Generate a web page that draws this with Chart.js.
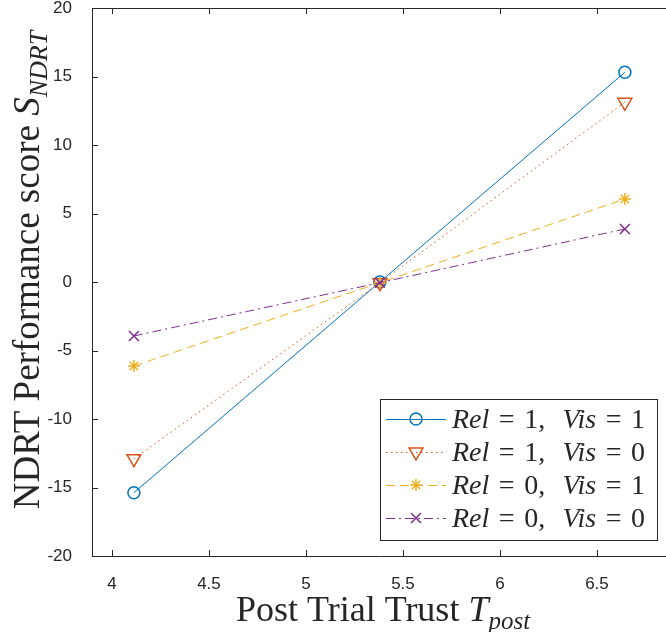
<!DOCTYPE html>
<html>
<head>
<meta charset="utf-8">
<script src="https://cdn.jsdelivr.net/npm/chart.js@4/dist/chart.umd.min.js"></script>
<style>
html, body { margin: 0; padding: 0; background: #fff; }
#wrap { width: 666px; height: 632px; }
</style>
</head>
<body>
<div id="wrap"><canvas id="graph" width="666" height="632"></canvas></div>
<script>
// values
var trust = [4.113, 5.381, 6.644];
var rel1vis1 = [-15.38, 0.0, 15.31];
var rel1vis0 = [-12.9, -0.05, 13.12];
var rel0vis1 = [-6.13, -0.05, 6.06];
var rel0vis0 = [-3.94, -0.05, 3.87];
var seriesLabels = ['Rel = 1,  Vis = 1', 'Rel = 1,  Vis = 0', 'Rel = 0,  Vis = 1', 'Rel = 0,  Vis = 0'];
var xTicks = [4, 4.5, 5, 5.5, 6, 6.5];
var yTicks = [-20, -15, -10, -5, 0, 5, 10, 15, 20];
var xTitle = ['Post Trial Trust ', 'T', 'post'];
var yTitle = ['NDRT Performance score ', 'S', 'NDRT'];

var colors = ['rgb(0,114,189)', 'rgb(217,83,25)', 'rgb(237,177,32)', 'rgb(126,47,142)'];
var styles = [
    {dash: [], point: 'circle', radius: 6, rot: 0},
    {dash: [1.5, 3.5], point: 'triangle', radius: 8, rot: 180},
    {dash: [9, 5], point: 'star', radius: 6, rot: 0},
    {dash: [9, 4, 2, 4], point: 'crossRot', radius: 7, rot: 0}
];
var axisColor = '#262626';
var serif = '"Liberation Serif", "Times New Roman", serif';

function toPoints(ys){
    return ys.map(function(y, i){ return {x: trust[i], y: y}; });
}

var series = [rel1vis1, rel1vis0, rel0vis1, rel0vis0];
var datasets = [];
for(let i = 0; i < series.length; i++){
    datasets.push({
        label: seriesLabels[i],
        data: toPoints(series[i]),
        showLine: true,
        borderColor: colors[i],
        borderWidth: 1,
        borderDash: styles[i].dash,
        backgroundColor: 'rgba(0,0,0,0)',
        pointStyle: styles[i].point,
        pointRadius: styles[i].radius,
        pointRotation: styles[i].rot,
        pointBorderColor: colors[i],
        pointBackgroundColor: 'rgba(0,0,0,0)',
        pointBorderWidth: 1.5,
        order: series.length - i
    });
}

// draws runs of text, e.g. regular + italic + subscript, returns width
function richWidth(ctx, runs){
    var w = 0;
    runs.forEach(function(r){ ctx.font = r.font; w += ctx.measureText(r.text).width; });
    return w;
}
function drawRich(ctx, runs, x, y){
    runs.forEach(function(r){
        ctx.font = r.font;
        ctx.fillText(r.text, x, y + (r.dy || 0));
        x += ctx.measureText(r.text).width;
    });
}
function titleRuns(parts, px){
    return [
        {text: parts[0], font: px + 'px ' + serif},
        {text: parts[1], font: 'italic ' + px + 'px ' + serif},
        {text: parts[2], font: 'italic ' + Math.round(px * 0.7) + 'px ' + serif, dy: px * 0.22}
    ];
}
// legend label: letters italic, '=' padded, single spaces ignored like TeX
function drawMath(ctx, str, x, y, px){
    var tokens = str.match(/[A-Za-z]+|[0-9]+|=|,|\s+/g);
    tokens.forEach(function(t){
        if(/^\s+$/.test(t)){
            if(t.length > 1) x += 0.62 * px;
            return;
        }
        var italic = /^[A-Za-z]/.test(t);
        var pad = t === '=' ? 0.34 * px : 0;
        ctx.font = (italic ? 'italic ' : '') + px + 'px ' + serif;
        x += pad;
        ctx.fillText(t, x, y);
        x += ctx.measureText(t).width + pad;
    });
}

var matlabFrame = {
    id: 'matlabFrame',
    afterDatasetsDraw: function(chart){
        var ctx = chart.ctx;
        var a = chart.chartArea;
        var xs = chart.scales.x, ys = chart.scales.y;
        var tl = 6;
        ctx.save();
        ctx.strokeStyle = axisColor;
        ctx.lineWidth = 1;
        ctx.beginPath();
        ctx.moveTo(a.left, a.top + 0.5);
        ctx.lineTo(a.right, a.top + 0.5);
        xs.ticks.forEach(function(t){
            var px = Math.round(xs.getPixelForValue(t.value)) + 0.5;
            ctx.moveTo(px, a.bottom); ctx.lineTo(px, a.bottom - tl);
            ctx.moveTo(px, a.top); ctx.lineTo(px, a.top + tl);
        });
        ys.ticks.forEach(function(t){
            var py = Math.round(ys.getPixelForValue(t.value)) + 0.5;
            ctx.moveTo(a.left, py); ctx.lineTo(a.left + tl, py);
        });
        ctx.stroke();
        ctx.restore();
    },
    afterDraw: function(chart){
        var ctx = chart.ctx;
        ctx.save();
        ctx.fillStyle = axisColor;
        ctx.textBaseline = 'alphabetic';
        ctx.textAlign = 'left';

        // x title
        var xr = titleRuns(xTitle, 36);
        var xw = richWidth(ctx, xr);
        drawRich(ctx, xr, 383 - xw / 2, 621);

        // y title, rotated
        var yr = titleRuns(yTitle, 37);
        var yw = richWidth(ctx, yr);
        ctx.save();
        ctx.translate(39, 270 + yw / 2);
        ctx.rotate(-Math.PI / 2);
        drawRich(ctx, yr, 0, 0);
        ctx.restore();

        // legend box
        var bx = 380, by = 399, bw = 277, bh = 141, rowGap = 33;
        ctx.fillStyle = '#fff';
        ctx.fillRect(bx, by, bw, bh);
        ctx.strokeStyle = axisColor;
        ctx.lineWidth = 1;
        ctx.strokeRect(bx + 0.5, by + 0.5, bw, bh);
        chart.data.datasets.forEach(function(ds, i){
            var ry = by + 20 + i * rowGap;
            ctx.save();
            ctx.strokeStyle = ds.borderColor;
            ctx.lineWidth = ds.borderWidth;
            ctx.setLineDash(ds.borderDash);
            ctx.beginPath();
            ctx.moveTo(bx + 6, ry + 0.5);
            ctx.lineTo(bx + 66, ry + 0.5);
            ctx.stroke();
            ctx.setLineDash([]);
            ctx.fillStyle = ds.pointBackgroundColor;
            ctx.strokeStyle = ds.pointBorderColor;
            ctx.lineWidth = ds.pointBorderWidth;
            Chart.helpers.drawPoint(ctx, {
                pointStyle: ds.pointStyle,
                rotation: ds.pointRotation,
                radius: ds.pointRadius,
                borderWidth: ds.pointBorderWidth
            }, bx + 36, ry);
            ctx.restore();
            ctx.fillStyle = axisColor;
            drawMath(ctx, ds.label, bx + 72, ry + 9, 28);
        });
        ctx.restore();
    }
};

var tickFont = {family: '"Liberation Sans", Arial, sans-serif', size: 17};

new Chart(document.getElementById('graph').getContext('2d'), {
    type: 'scatter',
    data: {datasets: datasets},
    options: {
        responsive: false,
        animation: false,
        devicePixelRatio: 1,
        layout: {autoPadding: false, padding: {top: 8, right: 0, left: 0, bottom: 0}},
        plugins: {legend: {display: false}, tooltip: {enabled: false}},
        scales: {
            x: {
                type: 'linear',
                min: 3.897,
                max: 6.856,
                grid: {display: false},
                border: {display: true, color: axisColor, width: 1},
                ticks: {color: axisColor, font: tickFont, padding: 10, maxRotation: 0,
                    callback: function(v){ return String(v); }},
                afterBuildTicks: function(s){ s.ticks = xTicks.map(function(v){ return {value: v}; }); },
                afterFit: function(s){ s.height = 76; s.paddingLeft = 0; s.paddingRight = 0; }
            },
            y: {
                min: -20,
                max: 20,
                grid: {display: false},
                border: {display: true, color: axisColor, width: 1},
                ticks: {color: axisColor, font: tickFont, padding: 12,
                    callback: function(v){ return String(v); }},
                afterBuildTicks: function(s){ s.ticks = yTicks.map(function(v){ return {value: v}; }); },
                afterFit: function(s){ s.width = 92; s.paddingTop = 0; s.paddingBottom = 0; }
            }
        }
    },
    plugins: [matlabFrame]
});
</script>
</body>
</html>
